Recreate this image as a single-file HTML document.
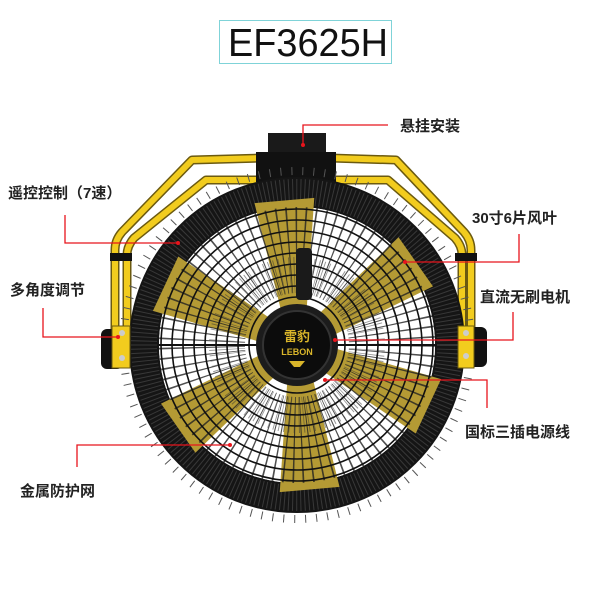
<!DOCTYPE html>
<html><head><meta charset="utf-8"><style>
html,body{margin:0;padding:0;background:#fff;}
svg{display:block}
.l{font-family:"Liberation Sans","Noto Sans CJK SC",sans-serif;font-size:15px;font-weight:bold;fill:#222}
</style></head><body>
<svg width="600" height="600" viewBox="0 0 600 600" xmlns="http://www.w3.org/2000/svg">
<rect width="600" height="600" fill="#fff"/>
<rect x="219.5" y="20.5" width="172" height="43" fill="none" stroke="#7fd3d8" stroke-width="1"/>
<text x="228" y="56" font-family="Liberation Sans,sans-serif" font-size="39" textLength="160" lengthAdjust="spacingAndGlyphs" fill="#111">EF3625H</text>

<g fill="none" stroke-linecap="round" stroke-linejoin="round">
<path d="M115 330 L115 250 Q115 240 122 232 L192 160 L262 158" stroke="#6b5a10" stroke-width="9"/>
<path d="M115 330 L115 250 Q115 240 122 232 L192 160 L262 158" stroke="#f2cc1e" stroke-width="6"/>
<path d="M127 330 L127 255 Q127 246 134 238 L206 180 L262 180" stroke="#6b5a10" stroke-width="9"/>
<path d="M127 330 L127 255 Q127 246 134 238 L206 180 L262 180" stroke="#f2cc1e" stroke-width="6"/>
<path d="M471 330 L471 250 Q471 240 464 232 L396 160 L330 158" stroke="#6b5a10" stroke-width="9"/>
<path d="M471 330 L471 250 Q471 240 464 232 L396 160 L330 158" stroke="#f2cc1e" stroke-width="6"/>
<path d="M462 330 L462 255 Q462 246 455 238 L388 180 L330 180" stroke="#6b5a10" stroke-width="9"/>
<path d="M462 330 L462 255 Q462 246 455 238 L388 180 L330 180" stroke="#f2cc1e" stroke-width="6"/>
</g>
<rect x="110" y="253" width="22" height="8" fill="#111"/>
<rect x="455" y="253" width="22" height="8" fill="#111"/>
<rect x="268" y="133" width="58" height="22" fill="#1a1a1a"/>
<rect x="256" y="152" width="80" height="30" fill="#111"/>

<g transform="translate(297,345)">
<circle r="174" fill="none" stroke="#555" stroke-width="8" stroke-dasharray="1 10"/>
<circle r="153" fill="none" stroke="#151515" stroke-width="30"/>
<circle r="153" fill="none" stroke="#383838" stroke-width="26" stroke-dasharray="1 3"/>
<circle r="138" fill="#fff"/>
<g fill="#b49a34">
<polygon points="30,-12 145,-30 145,30 30,12" transform="rotate(-95)"/>
<polygon points="30,-12 145,-30 145,30 30,12" transform="rotate(-35)"/>
<polygon points="30,-12 145,-30 145,30 30,12" transform="rotate(25)"/>
<polygon points="30,-12 145,-30 145,30 30,12" transform="rotate(85)"/>
<polygon points="30,-12 145,-30 145,30 30,12" transform="rotate(145)"/>
<polygon points="30,-12 145,-30 145,30 30,12" transform="rotate(205)"/>
</g>
<circle r="95" fill="none" stroke="#222" stroke-width="86" stroke-dasharray="1.2 6" opacity="0.8"/>
<circle r="70" fill="none" stroke="#333" stroke-width="36" stroke-dasharray="0.8 3.5" opacity="0.5"/>
<g fill="none" stroke="#111" stroke-width="1.6">
<circle r="136"/><circle r="125"/><circle r="114"/><circle r="103"/><circle r="92"/><circle r="81"/><circle r="70"/><circle r="59"/><circle r="48"/>
</g>
<line x1="-138" y1="0" x2="138" y2="0" stroke="#111" stroke-width="2"/>
<circle r="41" fill="#1c1c1c"/>
<circle r="34" fill="#0c0c0c" stroke="#333" stroke-width="2"/>
<text x="0" y="-4" text-anchor="middle" font-family="Liberation Sans,'Noto Sans CJK SC',sans-serif" font-size="13" font-weight="bold" fill="#d9b52a">雷豹</text>
<text x="0" y="10" text-anchor="middle" font-family="Liberation Sans,sans-serif" font-size="9" font-weight="bold" fill="#d9b52a">LEBON</text>
<path d="M-8 16 L8 16 L3 22 L-3 22 Z" fill="#d9b52a"/>
</g>
<rect x="296" y="248" width="16" height="52" rx="4" fill="#1a1a1a"/>

<rect x="101" y="329" width="22" height="40" rx="6" fill="#111"/>
<rect x="112" y="326" width="18" height="42" fill="#f2cc1e" stroke="#6b5a10"/>
<circle cx="122" cy="333" r="3" fill="#ccc"/><circle cx="122" cy="358" r="3" fill="#ccc"/>
<rect x="465" y="327" width="22" height="40" rx="6" fill="#111"/>
<rect x="458" y="326" width="16" height="42" fill="#f2cc1e" stroke="#6b5a10"/>
<circle cx="466" cy="333" r="3" fill="#ccc"/><circle cx="466" cy="356" r="3" fill="#ccc"/>

<g fill="none" stroke="#e8141c" stroke-width="1.3">
<polyline points="303,145 303,125 388,125"/>
<polyline points="65,215 65,243 178,243"/>
<polyline points="43,308 43,337 118,337"/>
<polyline points="77,467 77,445 230,445"/>
<polyline points="519,234 519,262 405,262"/>
<polyline points="513,312 513,340 335,340"/>
<polyline points="487,408 487,380 325,380"/>
</g>
<g fill="#e8141c">
<circle cx="303" cy="145" r="2"/><circle cx="178" cy="243" r="2"/><circle cx="118" cy="337" r="2"/>
<circle cx="230" cy="445" r="2"/><circle cx="405" cy="262" r="2"/><circle cx="335" cy="340" r="2"/><circle cx="325" cy="380" r="2"/>
</g>

<text class="l" x="400" y="131">悬挂安装</text>
<text class="l" x="8" y="198">遥控控制（7速）</text>
<text class="l" x="472" y="223">30寸6片风叶</text>
<text class="l" x="10" y="295">多角度调节</text>
<text class="l" x="480" y="302">直流无刷电机</text>
<text class="l" x="465" y="437">国标三插电源线</text>
<text class="l" x="20" y="496">金属防护网</text>
</svg>
</body></html>
